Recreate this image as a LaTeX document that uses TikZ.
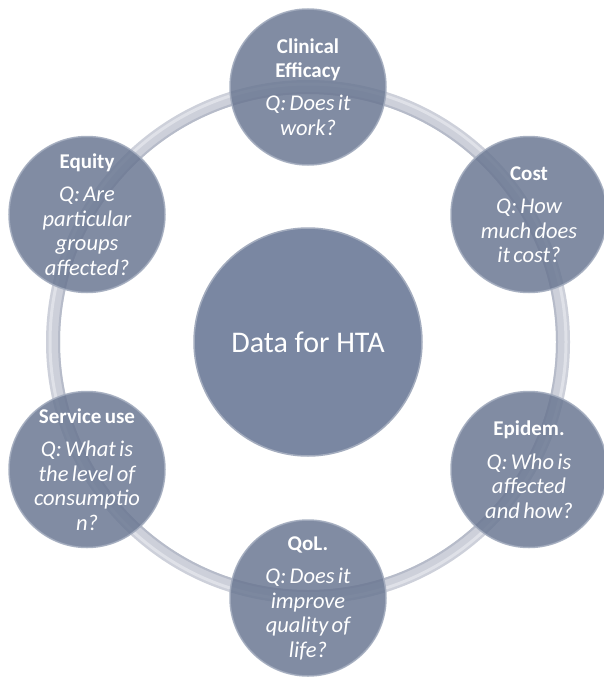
\documentclass[tikz,border=0pt]{standalone}
\usepackage{fontspec}
\setmainfont{Carlito}
\definecolor{ringc}{HTML}{CDD0DA}
\definecolor{ringhi}{HTML}{DFE1E8}
\definecolor{ringlo}{HTML}{B6BBC9}
\definecolor{nodec}{HTML}{6A7792}
\definecolor{centc}{HTML}{7A87A2}
\definecolor{rimc}{HTML}{A3ACBE}
\newcommand\ttlx[1]{{\fontsize{21}{24}\selectfont\bfseries #1\par}\vspace{9pt}}
\newcommand\qqx[1]{{\fontsize{22.5}{24.5}\selectfont\itshape #1\par}}
\tikzset{
  bub/.style={circle, minimum size=156pt, inner sep=0pt, fill=nodec, fill opacity=0.84,
    draw=rimc, draw opacity=0.9, line width=1.5pt},
  txt/.style={text=white, text width=150pt, align=center, inner sep=0pt},
  cent/.style={circle, minimum size=228pt, inner sep=0pt, fill=centc, draw=rimc,
    line width=1.5pt, text=white, font=\fontsize{30}{34}\selectfont}
}
\begin{document}
\begin{tikzpicture}[x=1pt,y=-1pt]
\useasboundingbox (0,0) rectangle (604,677);
\fill[white] (0,0) rectangle (604,677);
\coordinate (O) at (308,342);
\draw[ringc, line width=14pt] (O) circle[radius=255pt];
\draw[ringlo, line width=2pt] (O) circle[radius=249pt];
\draw[ringhi, line width=3pt] (O) circle[radius=258pt];
\node[cent] (hta) at (O) {Data for HTA};
\node[bub] (ce) at (308,87) {};
\node[bub] (cost) at (529,214.5) {};
\node[bub] (epi) at (529,469.5) {};
\node[bub] (qol) at (308,598) {};
\node[bub] (svc) at (87,469.5) {};
\node[bub] (eq) at (87,214.5) {};
\node[txt] (cet) at (ce.center) {\ttlx{Clinical\\Efficacy}\qqx{Q: Does it\\work?}};
\node[txt] (costt) at (cost.center) {\ttlx{Cost}\qqx{Q: How\\much does\\it cost?}};
\node[txt] (epit) at (epi.center) {\ttlx{Epidem.}\qqx{Q: Who is\\affected\\and how?}};
\node[txt] (qolt) at (qol.center) {\ttlx{QoL.}\qqx{Q: Does it\\improve\\quality of\\life?}};
\node[txt] (svct) at (svc.center) {\ttlx{Service use}\qqx{Q: What is\\the level of\\consumptio\\n?}};
\node[txt] (eqt) at (eq.center) {\ttlx{Equity}\qqx{Q: Are\\particular\\groups\\affected?}};
\end{tikzpicture}
\end{document}
